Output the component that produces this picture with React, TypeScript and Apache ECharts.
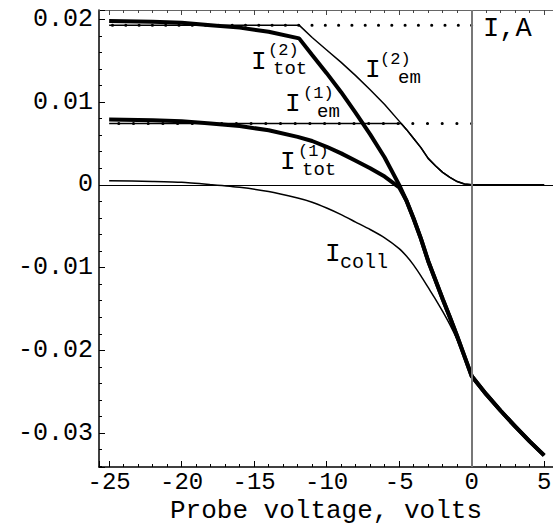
import { useEffect, useRef } from "react";
import * as echarts from "echarts";

// Probe voltage (V) and currents (A)
const collV = [-25, -22, -20, -18, -16, -14, -12, -11, -10, -9, -8, -7, -6, -5, -4.5, -4, -3.5, -3, -2.5, -2, -1.5, -1, -0.5, 0, 1, 2, 3, 4, 5];
const collI = [0.0005, 0.0004, 0.0003, 0.00002, -0.0003, -0.0008, -0.0016, -0.0021, -0.0028, -0.0036, -0.0045, -0.0054, -0.0064, -0.0077, -0.0086, -0.0097, -0.011, -0.0124, -0.0138, -0.0153, -0.0169, -0.0187, -0.0208, -0.0231, -0.0253, -0.0273, -0.0292, -0.031, -0.0327];

const em2V = [-25, -11.9, -11, -10, -9, -8, -7, -6, -5, -4.5, -4, -3.5, -3, -2.5, -2, -1.5, -1, -0.5, 0, 5];
const em2I = [0.0193, 0.0193, 0.0178, 0.0163, 0.0148, 0.0132, 0.0115, 0.0097, 0.0077, 0.0067, 0.0056, 0.0045, 0.0032, 0.0023, 0.0015, 0.0009, 0.0004, 0.0001, 0, 0];

const em1V = [-25, -4.86, -4.5, -4, -3.5, -3, -2.5, -2, -1.5, -1, -0.5, 0, 5];
const em1I = [0.0074, 0.0074, 0.0067, 0.0056, 0.0045, 0.0032, 0.0023, 0.0015, 0.0009, 0.0004, 0.0001, 0, 0];

const tot2V = [-25, -22, -20, -18, -16, -14, -11.9, -11, -10, -9, -8, -7, -6, -5, -4.5, -4, -3.5, -3, -2.5, -2, -1.5, -1, -0.5, 0, 1, 2, 3, 4, 5];
const tot2I = [0.0198, 0.0197, 0.0196, 0.0193, 0.019, 0.0185, 0.0177, 0.0157, 0.0135, 0.0112, 0.0087, 0.0061, 0.0033, 0.0, -0.0019, -0.0041, -0.0065, -0.0092, -0.0115, -0.0138, -0.016, -0.0183, -0.0207, -0.0231, -0.0253, -0.0273, -0.0292, -0.031, -0.0327];

const tot1V = [-25, -22, -20, -18, -16, -14, -12, -11, -10, -9, -8, -7, -6, -5, -4.5, -4, -3.5, -3, -2.5, -2, -1.5, -1, -0.5, 0, 1, 2, 3, 4, 5];
const tot1I = [0.0079, 0.0078, 0.0077, 0.0074, 0.0071, 0.0066, 0.0058, 0.0053, 0.0046, 0.0038, 0.0029, 0.002, 0.001, -0.0003, -0.0019, -0.0041, -0.0065, -0.0092, -0.0115, -0.0138, -0.016, -0.0183, -0.0207, -0.0231, -0.0253, -0.0273, -0.0292, -0.031, -0.0327];

// Saturation levels (dotted guides), drawn from V = 0 back to V = -25
const satV = [0, -25];
const sat2 = 0.0193;
const sat1 = 0.0074;

const X_MIN = -25.7;
const X_MAX = 5.61;
const Y_MIN = -0.0341;
const Y_MAX = 0.02113;

const FONT = '"Liberation Mono", "DejaVu Sans Mono", monospace';

const pairs = (xs: number[], ys: number[]) => xs.map((x, i) => [x, ys[i]]);

function txt(text: string, x: number, y: number, size: number) {
  return {
    type: "text",
    x,
    y,
    z: 100,
    style: {
      text,
      font: `${size}px ${FONT}`,
      fill: "#000",
      align: "left",
      verticalAlign: "middle",
    },
  };
}

export default function App() {
  const ref = useRef<HTMLDivElement>(null);
  useEffect(() => {
    const chart = echarts.init(ref.current!, null, { renderer: "svg" });
    const thin = { color: "#000", width: 1.5 };
    const thick = { color: "#000", width: 4 };
    const tickStyle = { color: "#000", width: 1 };
    chart.setOption({
      animation: false,
      backgroundColor: "#fff",
      grid: { left: 99, right: 0, top: 10, bottom: 58, containLabel: false, outerBoundsMode: "none" },
      xAxis: [
        {
          type: "value",
          min: X_MIN,
          max: X_MAX,
          position: "bottom",
          axisLine: { show: true, onZero: false, lineStyle: { color: "#000", width: 1.5 } },
          axisTick: { show: true, inside: true, length: 6, lineStyle: tickStyle },
          minorTick: { show: true, splitNumber: 5, length: 3, lineStyle: tickStyle },
          splitLine: { show: false },
          axisLabel: {
            showMinLabel: false,
            showMaxLabel: false,
            fontFamily: FONT,
            fontSize: 24,
            lineHeight: 24,
            color: "#000",
            margin: 3,
            hideOverlap: false,
            formatter: (v: number) => String(Math.round(v)),
          },
          name: "Probe voltage, volts",
          nameLocation: "middle",
          nameGap: 31,
          nameMoveOverlap: false,
          nameTextStyle: { fontFamily: FONT, fontSize: 26, lineHeight: 26, color: "#000" },
        },
        {
          type: "value",
          min: X_MIN,
          max: X_MAX,
          position: "top",
          axisLine: { show: true, onZero: false, lineStyle: { color: "#666", width: 1 } },
          axisTick: { show: true, inside: true, length: 5, lineStyle: { color: "#444", width: 1 } },
          minorTick: { show: true, splitNumber: 5, length: 3, lineStyle: { color: "#444", width: 1 } },
          splitLine: { show: false },
          axisLabel: { show: false },
        },
      ],
      yAxis: [
        {
          type: "value",
          min: Y_MIN,
          max: Y_MAX,
          position: "left",
          axisLine: { show: true, onZero: false, lineStyle: { color: "#000", width: 1.5 } },
          axisTick: { show: true, inside: true, length: 6, lineStyle: tickStyle },
          minorTick: { show: true, splitNumber: 5, length: 3, lineStyle: tickStyle },
          splitLine: { show: false },
          axisLabel: {
            showMinLabel: false,
            showMaxLabel: false,
            fontFamily: FONT,
            fontSize: 25,
            color: "#000",
            margin: 6,
            formatter: (v: number) => (Math.abs(v) < 1e-9 ? "0" : v.toFixed(2)),
          },
        },
      ],
      series: [
        {
          name: "I_coll",
          type: "line",
          symbol: "none",
          smooth: 0.2,
          data: pairs(collV, collI),
          lineStyle: thin,
          markLine: {
            silent: true,
            symbol: ["none", "none"],
            label: { show: false },
            data: [
              { yAxis: 0, lineStyle: { color: "#000", width: 1, type: "solid" } },
              { xAxis: 0, lineStyle: { color: "#777", width: 2, type: "solid" } },
            ],
          },
        },
        {
          name: "sat2",
          type: "line",
          symbol: "none",
          data: pairs(satV, [sat2, sat2]),
          lineStyle: { color: "#000", width: 3, type: [0.1, 13.2], cap: "round" },
        },
        {
          name: "sat1",
          type: "line",
          symbol: "none",
          data: pairs(satV, [sat1, sat1]),
          lineStyle: { color: "#000", width: 3, type: [0.1, 14.6], cap: "round" },
        },
        { name: "I_em2", type: "line", symbol: "none", data: pairs(em2V, em2I), lineStyle: thin },
        { name: "I_em1", type: "line", symbol: "none", data: pairs(em1V, em1I), lineStyle: thin },
        { name: "I_tot1", type: "line", symbol: "none", data: pairs(tot1V, tot1I), lineStyle: thick },
        { name: "I_tot2", type: "line", symbol: "none", data: pairs(tot2V, tot2I), lineStyle: thick },
      ],
      graphic: [
        txt("I,A", 483, 29, 27),
        txt("I", 251, 62, 26),
        txt("(2)", 268, 50, 17),
        txt("tot", 273, 69, 19),
        txt("I", 365, 70, 26),
        txt("(2)", 380, 59, 17),
        txt("em", 398, 78, 19),
        txt("I", 285, 104, 26),
        txt("(1)", 303, 93, 17),
        txt("em", 317, 112, 19),
        txt("I", 280, 162, 26),
        txt("(1)", 298, 151, 17),
        txt("tot", 302, 170, 19),
        txt("I", 325, 254, 26),
        txt("coll", 340, 262, 20),
      ],
    });
    return () => chart.dispose();
  }, []);
  return (
    <div
      ref={ref}
      style={{ position: "fixed", left: 0, top: 0, width: 553, height: 525, background: "#fff" }}
    />
  );
}
